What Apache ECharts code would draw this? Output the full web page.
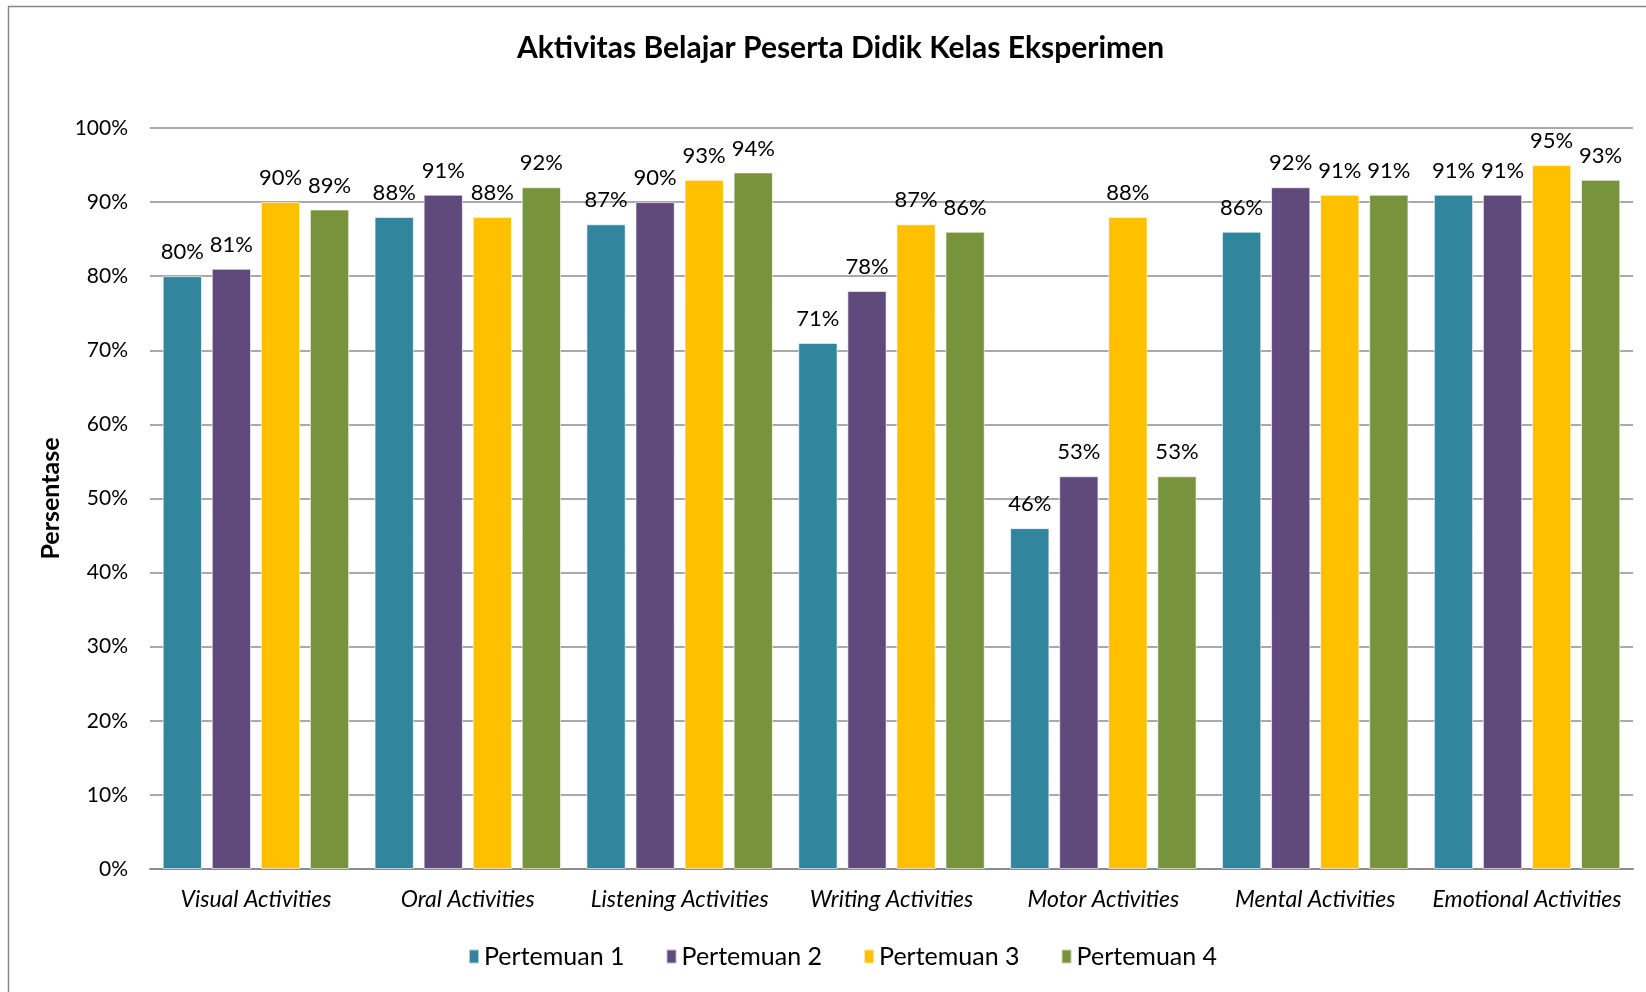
<!DOCTYPE html>
<html>
<head>
<meta charset="utf-8">
<script src="https://cdn.jsdelivr.net/npm/echarts@6/dist/echarts.min.js"></script>
<style>html,body{margin:0;padding:0;background:#fff}#c{width:1646px;height:992px}</style>
</head>
<body>
<div id="c"></div>
<script>
const categories = ['Visual Activities','Oral Activities','Listening Activities','Writing Activities','Motor Activities','Mental Activities','Emotional Activities'];
const seriesNames = ['Pertemuan 1','Pertemuan 2','Pertemuan 3','Pertemuan 4'];
const pertemuan1 = [80, 88, 87, 71, 46, 86, 91];
const pertemuan2 = [81, 91, 90, 78, 53, 92, 91];
const pertemuan3 = [90, 88, 93, 87, 88, 91, 95];
const pertemuan4 = [89, 92, 94, 86, 53, 91, 93];
const colors = ['#31859C','#604A7B','#FFC000','#77933C'];
const values = [pertemuan1, pertemuan2, pertemuan3, pertemuan4];
const FONT = 'Lato';

const chart = echarts.init(document.getElementById('c'));
chart.setOption({
  animation: false,
  textStyle: {fontFamily: FONT},
  graphic: [{type:'rect', shape:{x:8.5,y:6.5,width:1700,height:1100}, style:{fill:'none', stroke:'#878787', lineWidth:1.5}, silent:true}],
  title: {text:'Aktivitas Belajar Peserta Didik Kelas Eksperimen', left:512, top:28,
    textStyle:{fontFamily:FONT, fontWeight:'bold', fontSize:30, color:'#000'}},
  legend: {data: seriesNames, bottom: 18, left:463, itemWidth:10, itemHeight:14, itemGap:41, icon:'rect',
    textStyle:{fontFamily:FONT, fontSize:25, color:'#000'}},
  grid: {left:150, right:13, top:128, bottom:123},
  xAxis: {type:'category', data: categories,
    axisLine:{lineStyle:{color:'#8c8c8c', width:2}}, axisTick:{show:false},
    axisLabel:{fontFamily:FONT, fontStyle:'italic', fontSize:23, color:'#000', margin:19, interval:0}},
  yAxis: {type:'value', min:0, max:100, interval:10,
    name:'Persentase', nameLocation:'middle', nameGap:73,
    nameTextStyle:{fontFamily:FONT, fontWeight:'bold', fontSize:25, color:'#000'},
    axisLine:{show:false}, axisTick:{show:false},
    axisLabel:{formatter:'{value}%', fontFamily:FONT, fontSize:21, color:'#000', margin:22},
    splitLine:{lineStyle:{color:'#8c8c8c', width:1.5}}},
  series: values.map((v,i)=>({
    name: seriesNames[i], type:'bar', data:v, barGap:'25%', barCategoryGap:'12%',
    itemStyle:{color:colors[i], borderColor:'rgba(255,255,255,0.6)', borderWidth:1},
    label:{show:true, position:'top', formatter:'{c}%', fontFamily:FONT, fontSize:22, color:'#000', distance:13}
  }))
});
</script>
</body>
</html>
